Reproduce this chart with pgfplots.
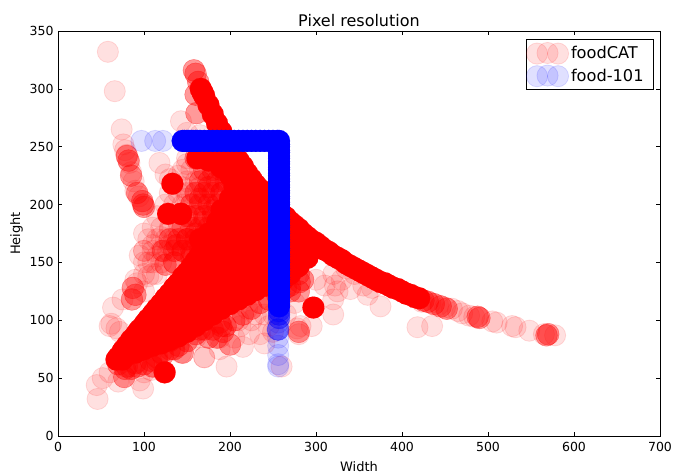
\documentclass[border=0pt]{standalone}
\usepackage{pgfplots}
\pgfplotsset{compat=1.18}
\usepackage{fontspec}
\setmainfont{DejaVu Sans}
\definecolor{pr}{RGB}{255,0,0}
\definecolor{pb}{RGB}{0,0,255}
\pgfplotsset{
 rl/.style={only marks,mark=*,mark size=10.6bp,forget plot,mark options={draw=pr,fill=pr,line width=0.8bp,opacity=0.12}},
 rm/.style={only marks,mark=*,mark size=10.9bp,forget plot,mark options={draw=pr,fill=pr,line width=0.5bp,opacity=0.4}},
 rs/.style={only marks,mark=*,mark size=11bp,forget plot,mark options={draw=pr,fill=pr,line width=0.1bp}},
 bl/.style={only marks,mark=*,mark size=10.6bp,forget plot,mark options={draw=pb,fill=pb,line width=0.8bp,opacity=0.12}},
 bm/.style={only marks,mark=*,mark size=10.9bp,forget plot,mark options={draw=pb,fill=pb,line width=0.5bp,opacity=0.45}},
 bs/.style={only marks,mark=*,mark size=11bp,forget plot,mark options={draw=pb,fill=pb,line width=0.1bp}},
}
\newcommand{\legcirc}[1]{%
 \draw[draw=#1,fill=#1,line width=0.8bp,opacity=0.12] (-3bp,0bp) circle (10.6bp);
 \draw[draw=#1,fill=#1,line width=0.8bp,opacity=0.12] (7.5bp,0.6bp) circle (10.6bp);
 \draw[draw=#1,fill=#1,line width=0.8bp,opacity=0.12] (18bp,0bp) circle (10.6bp);}
\begin{document}
\begin{tikzpicture}[x=1bp,y=1bp]
\useasboundingbox (0,0) rectangle (673,473);
\begin{axis}[
 at={(58bp,37bp)},anchor=south west,
 width=602bp,height=405bp,scale only axis,
 xmin=0,xmax=700,ymin=0,ymax=350,
 xtick={0,100,...,700},ytick={0,50,...,350},
 tick align=inside,major tick length=4bp,
 tick style={black,line width=0.6bp},
 axis line style={black,line width=0.8bp},
 /pgf/number format/assume math mode=true,
 ticklabel style={font=\fontsize{12.5bp}{14bp}\selectfont,black},
 xticklabel style={yshift=-3bp},
 yticklabel style={xshift=-1bp},
 title={Pixel resolution},
 title style={font=\fontsize{16bp}{18bp}\selectfont,yshift=-5bp},
 xlabel={Width},ylabel={Height},
 xlabel style={font=\fontsize{13bp}{15bp}\selectfont,yshift=-2.5bp},
 ylabel style={font=\fontsize{13bp}{15bp}\selectfont,yshift=0bp},
 legend style={at={(0.990,0.980)},anchor=north east,draw=black,line width=0.8bp,
   font=\fontsize{16.2bp}{19bp}\selectfont,inner xsep=0bp,inner ysep=2.5bp,
   row sep=0pt,cells={anchor=west}},
 legend cell align=left,
]
\addlegendimage{legend image code/.code={\legcirc{pr}},only marks}
\addlegendentry{foodCAT}
\addlegendimage{legend image code/.code={\legcirc{pb}},only marks}
\addlegendentry{food-101\hspace*{8bp}}

% light points
\addplot[rl] table {
58 332
66 298
74 265
76 252
78 247
80 243
83 236
85 228
88 220
90 212
94 207
118 236
125 226
143 272
150 262
165 260
100 175
115 155
130 165
135 150
95 156
90 135
75 118
64 111
60 95
68 93
72 90
62 97
100 160
105 150
115 140
110 165
120 172
130 178
140 185
152 190
150 205
165 215
175 200
180 225
190 222
130 222
140 225
150 235
155 210
145 215
100 125
92 132
105 138
100 140
110 140
100 150
110 150
120 150
100 160
110 160
120 160
128 160
105 170
115 170
125 170
135 170
110 180
120 180
130 180
140 180
115 190
125 200
135 200
145 200
130 210
140 210
150 210
150 220
160 220
145 230
155 230
165 230
150 240
210 100
220 110
240 105
250 105
265 105
275 115
45 44
46 32
52 50
60 55
70 47
99 41
95 48
85 60
100 55
112 60
108 57
134 75
143 72
170 68
170 68
196 60
215 77
222 88
225 100
240 80
235 88
245 95
250 90
212 95
205 85
188 75
188 85
160 85
155 82
230 105
260 60
278 93
282 95
295 95
280 88
320 105
320 118
322 130
330 135
320 140
340 127
345 140
335 145
325 125
360 122
365 128
375 112
355 130
418 94
435 95
300 135
310 130
423 116
433 115
442 113
450 111
458 110
465 108
470 106
478 104
484 103
505 99
510 98
528 95
532 94
548 91
565 88
578 87
};
% medium density points
\addplot[rm] table {
158 316
160 313
163 306
160 295
161 279
160 240
172 240
185 240
197 225
190 210
175 215
165 205
180 195
170 185
160 175
150 170
185 180
175 170
165 160
155 155
145 160
135 150
125 148
122 160
130 170
138 165
135 160
145 160
155 160
140 170
150 170
160 170
145 180
155 180
165 180
175 180
150 190
160 190
170 190
180 190
155 200
165 200
175 200
185 200
160 210
170 210
180 210
190 210
165 220
175 220
185 220
195 220
170 230
180 230
190 230
165 240
178 240
195 240
80 242
82 238
85 225
92 210
98 203
99 200
100 198
87 128
86 118
90 122
77 51
80 60
90 63
70 62
78 58
85 58
92 60
100 62
108 65
115 68
122 70
130 75
140 78
150 82
160 88
170 92
180 92
190 95
175 85
185 85
195 95
205 100
215 105
225 110
235 115
245 118
255 122
265 128
270 125
280 125
285 135
145 72
200 79
192 90
188 98
165 92
160 96
135 75
130 82
115 65
110 60
120 72
270 130
280 140
281 133
280 150
290 155
280 90
488 103
490 102
570 88
568 87
425 117
430 116
437 114
445 112
452 110
};
% saturated points
\addplot[rs] table {
124 55
297 111
133 218
128 192
143 192
143 192
162 240
175 238
190 238
205 232
215 225
165 170
175 175
185 185
190 195
200 205
205 215
200 225
190 232
205 238
215 232
166 300
168 297
170 294
175 286
180 278
185 270
190 263
195 256
200 250
205 244
210 238
215 233
220 227
225 222
230 217
235 213
240 208
245 204
250 200
255 196
260 192
265 189
270 185
275 182
280 179
285 175
290 172
295 169
300 167
305 164
310 161
315 159
320 156
325 154
330 152
335 149
340 147
345 145
350 143
355 141
360 139
365 137
370 135
375 133
380 132
385 130
390 128
395 127
400 125
405 123
410 122
415 120
420 119
70 68
75 73
80 78
85 83
90 87
95 92
100 96
105 101
110 105
115 110
120 114
125 119
130 123
135 128
140 132
145 137
150 141
155 146
160 151
165 156
170 162
175 168
180 174
185 180
190 187
195 193
200 200
205 206
210 212
215 218
220 224
80 70
90 72
100 75
110 78
120 80
130 83
140 86
150 90
160 95
170 100
180 105
190 110
200 114
210 118
220 122
230 126
240 130
250 132
262 135
270 140
280 147
290 155
68 66
75 66
76 74
86 74
95 74
85 82
97 82
109 82
120 82
93 90
105 90
117 90
129 90
141 90
146 90
102 98
114 98
126 98
138 98
150 98
160 98
111 106
123 106
135 106
147 106
159 106
171 106
178 106
120 114
132 114
144 114
156 114
168 114
180 114
192 114
129 122
141 122
153 122
165 122
177 122
189 122
201 122
212 122
138 130
150 130
162 130
174 130
186 130
198 130
210 130
222 130
234 130
242 130
147 138
159 138
171 138
183 138
195 138
207 138
219 138
231 138
243 138
255 138
264 138
156 146
168 146
180 146
192 146
204 146
216 146
228 146
240 146
252 146
264 146
278 146
170 154
182 154
194 154
206 154
218 154
230 154
242 154
254 154
266 154
278 154
290 154
178 162
190 162
202 162
214 162
226 162
238 162
250 162
262 162
274 162
286 162
298 162
186 170
198 170
210 170
222 170
234 170
246 170
258 170
270 170
282 170
292 170
195 178
207 178
219 178
231 178
243 178
255 178
267 178
279 178
205 186
217 186
229 186
241 186
253 186
265 186
212 194
224 194
236 194
248 194
257 194
218 202
230 202
242 202
246 202
222 210
232 210
236 210
228 218
};
% food-101
\addplot[bl] table {
97 255
113 255
122 255
256 98
255 92
256 85
256 78
256 70
256 62
256 60
};
\addplot[bm] table {
257 108
257 105
257 102
256 92
};
\addplot[bs] table {
145 255
147 255
150 255
152 255
155 255
157 255
160 255
162 255
165 255
170 255
175 255
180 255
185 255
190 255
195 255
200 255
205 255
210 255
215 255
220 255
225 255
230 255
235 255
240 255
245 255
250 255
255 255
257 255
257 252
257 250
257 247
257 245
257 242
257 240
257 237
257 235
257 232
257 230
257 227
257 225
257 222
257 220
257 217
257 215
257 212
257 210
257 207
257 205
257 202
257 200
257 197
257 195
257 192
257 190
257 187
257 185
257 182
257 180
257 177
257 175
257 172
257 170
257 167
257 165
257 162
257 160
257 157
257 155
257 152
257 150
257 147
257 145
257 142
257 140
257 137
257 135
257 132
257 130
257 127
257 125
257 122
257 120
257 117
257 114
257 112
};
\end{axis}
\end{tikzpicture}
\end{document}
